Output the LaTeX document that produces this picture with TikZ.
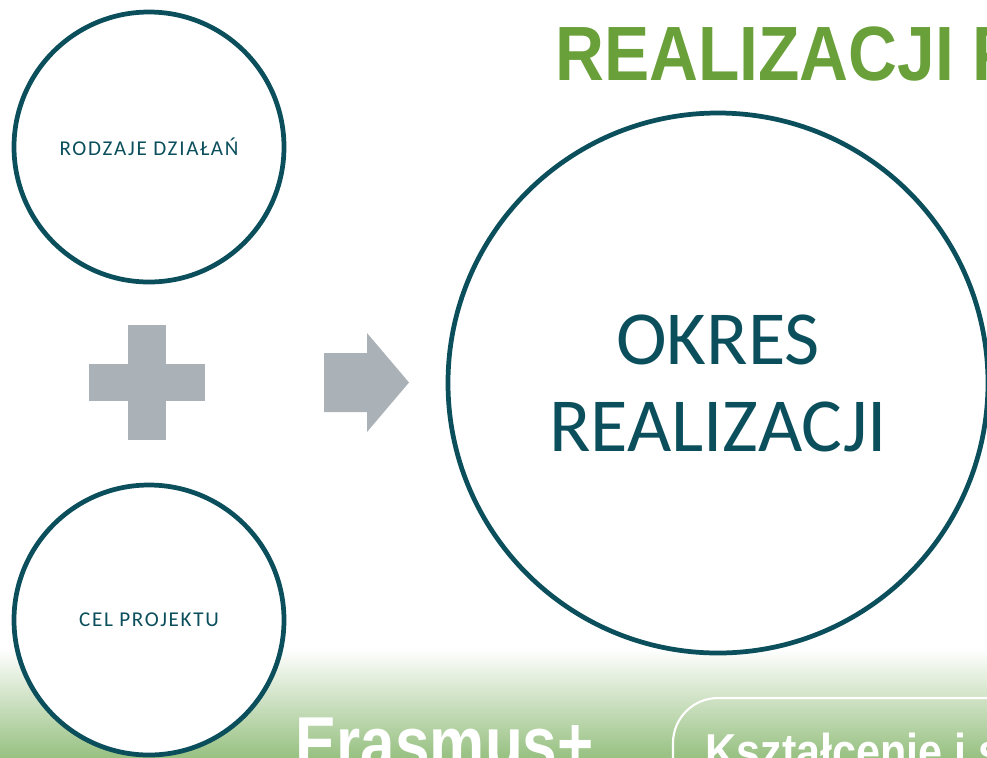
\documentclass[tikz,border=0pt]{standalone}
\usepackage{fontspec}
\setmainfont{Carlito}
\newfontfamily\headfont{Liberation Sans}
\newfontfamily\labelfont[LetterSpace=8]{Carlito}
\definecolor{tealdark}{HTML}{0B4F5C}
\definecolor{titlegreen}{HTML}{6AA03A}
\definecolor{bandgreen}{HTML}{98C182}
\definecolor{shapegrey}{HTML}{AAB2B7}
\tikzset{
  ring/.style={circle, draw=tealdark, line width=2.7pt, fill=white, text=tealdark, inner sep=0pt, align=center},
  whitetext/.style={text=white, inner sep=0pt, anchor=base west, xscale=0.88, transform shape}
}

\begin{document}
\begin{tikzpicture}
			\useasboundingbox (0,0) rectangle (19.74,-15.14);
			\clip (0,0) rectangle (19.74,-15.14);
			
			\coordinate (R) at (2.98,-2.94);
			\coordinate (C) at (2.98,-12.40);
			\coordinate (O) at (14.36,-7.66);
			
			% green band at the bottom
			\shade[top color=white, bottom color=bandgreen] (0,-12.96) rectangle (19.74,-15.14);
			\draw[white, line width=1.2pt, rounded corners=0.9cm] (13.46,-13.96) rectangle (22,-17);
			\node[whitetext, xscale=0.94, font=\headfont\bfseries\fontsize{42.7}{50}\selectfont] (erasmus) at (5.90,-15.38) {Erasmus+};
			\node[whitetext, font=\headfont\bfseries\fontsize{27.9}{33}\selectfont] (sektor) at (14.10,-15.36) {Kształcenie i s};
			
			% title
			\node[anchor=base west, inner sep=0pt, text=titlegreen, xscale=0.88, transform shape, font=\headfont\bfseries\fontsize{43.8}{50}\selectfont] (title) at (11.10,-1.60) {REALIZACJI P};
			
			% circles
			\node[ring, minimum size=5.40cm, font=\labelfont\fontsize{12}{14}\selectfont] (rodzaje) at (R) {RODZAJE DZIAŁAŃ};
			\node[ring, minimum size=5.40cm, font=\labelfont\fontsize{12}{14}\selectfont] (cel) at (C) {CEL PROJEKTU};
			\node[ring, minimum size=10.80cm, font=\fontsize{43.5}{49.5}\selectfont] (okres) at (O) {OKRES\\REALIZACJI};
			
			% plus and arrow
			\fill[shapegrey] (2.56,-6.50) rectangle (3.32,-8.80);
			\fill[shapegrey] (1.78,-7.28) rectangle (4.10,-8.02);
			\fill[shapegrey] (6.48,-7.06) -- (7.34,-7.06) -- (7.34,-6.66) -- (8.18,-7.65) -- (7.34,-8.64) -- (7.34,-8.24) -- (6.48,-8.24) -- cycle;
\end{tikzpicture}
\end{document}
